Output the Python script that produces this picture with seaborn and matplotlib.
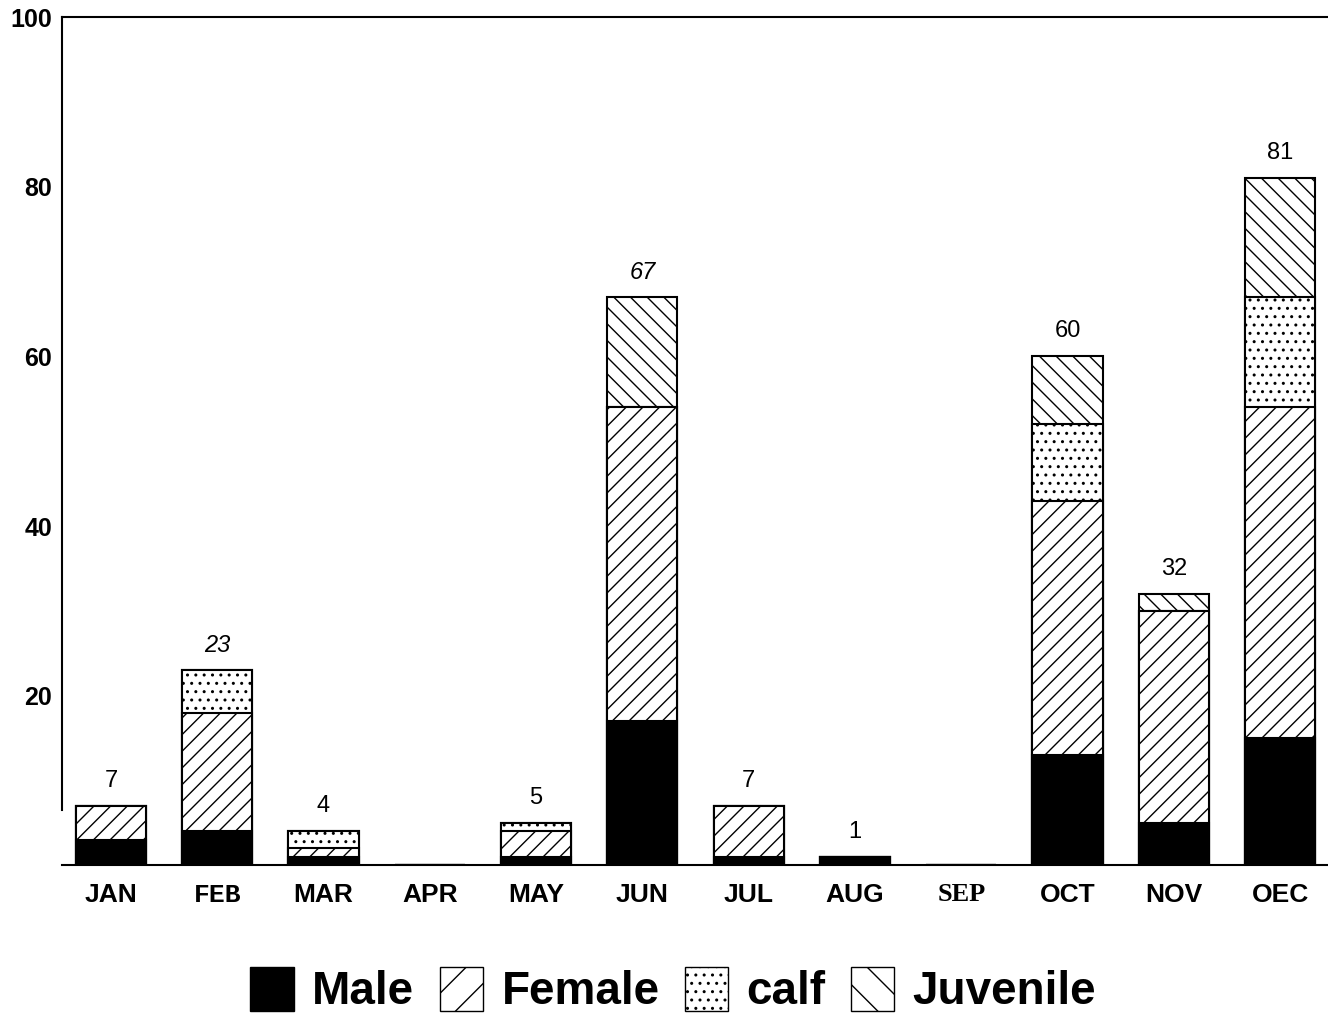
import numpy as np
import pandas as pd
import matplotlib.pyplot as plt
import seaborn as sns
from matplotlib.patches import Patch

# monthly counts
months = ["JAN", "FEB", "MAR", "APR", "MAY", "JUN", "JUL", "AUG", "SEP", "OCT", "NOV", "OEC"]
male = [3, 4, 1, 0, 1, 17, 1, 1, 0, 13, 5, 15]
female = [4, 14, 1, 0, 3, 37, 6, 0, 0, 30, 25, 39]
calf = [0, 5, 2, 0, 1, 0, 0, 0, 0, 9, 0, 13]
juvenile = [0, 0, 0, 0, 0, 13, 0, 0, 0, 8, 2, 14]
total_labels = ["7", "23", "4", "", "5", "67", "7", "1", "", "60", "32", "81"]
italic_labels = ["23", "67"]

sns.set_style("white")
plt.rcParams.update({
    "font.family": ["Liberation Sans", "DejaVu Sans"],
    "hatch.linewidth": 1.0,
    "text.color": "black",
    "xtick.color": "black",
    "ytick.color": "black",
    "axes.labelcolor": "black",
})

df = pd.DataFrame({"month": months, "Male": male, "Female": female,
                   "calf": calf, "Juvenile": juvenile})
# cumulative tops, drawn tallest first so each lower layer covers the one above
df["c1"] = df["Male"]
df["c2"] = df["c1"] + df["Female"]
df["c3"] = df["c2"] + df["calf"]
df["c4"] = df["c3"] + df["Juvenile"]

fig, ax = plt.subplots(figsize=(13.28, 10.19), dpi=100)
fig.subplots_adjust(left=0.0467, right=1.0, bottom=0.151, top=0.983)

layers = [("c4", "white", "\\\\"), ("c3", "white", ".."),
          ("c2", "white", "//"), ("c1", "black", None)]
for col, face, hatch in layers:
    sns.barplot(data=df, x="month", y=col, order=months, color=face,
                saturation=1, edgecolor="black", linewidth=1.5, hatch=hatch,
                width=0.66, errorbar=None, ax=ax)

# totals above bars
for i, lab in enumerate(total_labels):
    if not lab:
        continue
    style = "italic" if lab in italic_labels else "normal"
    ax.annotate(lab, (i, df["c4"][i]), xytext=(0, 18), textcoords="offset points",
                ha="center", va="center", fontsize=17, fontstyle=style)

ax.set_xlim(-0.46, 11.45)
ax.set_ylim(0, 100)
ax.set_yticks([20, 40, 60, 80, 100])
ax.set_xlabel("")
ax.set_ylabel("")
ax.tick_params(axis="y", length=0, pad=7, labelsize=18)
ax.tick_params(axis="x", direction="in", length=7, width=1, pad=13, labelsize=19)
for t in ax.get_yticklabels():
    t.set_fontweight("bold")
for t in ax.get_xticklabels():
    t.set_fontweight("bold")
    if t.get_text() == "FEB":
        t.set_family(["Liberation Mono", "DejaVu Sans Mono"])
    elif t.get_text() == "SEP":
        t.set_family(["Liberation Serif", "DejaVu Serif"])

ax.spines["right"].set_visible(False)
for s in ["top", "left", "bottom"]:
    ax.spines[s].set_color("black")
    ax.spines[s].set_linewidth(1.5)
ax.spines["left"].set_bounds(6.5, 100)

handles = [Patch(facecolor="black", edgecolor="black", label="Male"),
           Patch(facecolor="white", edgecolor="black", hatch="/", label="Female"),
           Patch(facecolor="white", edgecolor="black", hatch="..", label="calf"),
           Patch(facecolor="white", edgecolor="black", hatch="\\", label="Juvenile")]
fig.legend(handles=handles, loc="lower center", bbox_to_anchor=(0.507, -0.036),
           ncol=4, frameon=False, handlelength=0.95, handleheight=1.1,
           handletextpad=0.4, columnspacing=0.55,
           prop={"family": "Liberation Sans", "weight": "bold", "size": 33})

fig.savefig("out.png", dpi=100)
